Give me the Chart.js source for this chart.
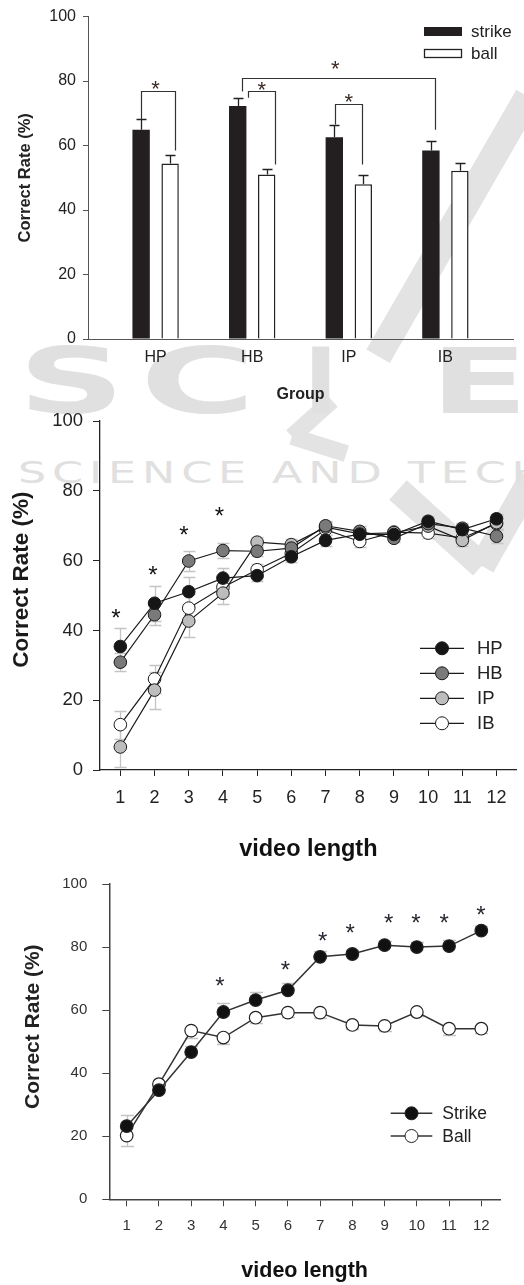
<!DOCTYPE html>
<html><head><meta charset="utf-8">
<script src="https://cdn.jsdelivr.net/npm/chart.js@4.4.1/dist/chart.umd.min.js"></script>
<style>
html,body{margin:0;padding:0;background:#fff;}
#page{position:relative;width:524px;height:1285px;overflow:hidden;background:#fff;}
canvas{position:absolute;left:0;}
.wm{position:absolute;color:#e0e0e0;font-family:"DejaVu Sans",sans-serif;font-weight:bold;white-space:nowrap;line-height:1;transform-origin:0 0;}
.band{position:absolute;background:#e3e3e3;transform-origin:0 50%;}
</style></head>
<body><div id="page">
<div class="wm" style="left:18px;top:337px;font-size:90px;transform:scaleX(1.65);">S</div>
<div class="wm" style="left:140px;top:337px;font-size:90px;transform:scaleX(1.75);">C</div>
<div class="wm" style="left:304px;top:337px;font-size:90px;">I</div>
<div class="wm" style="left:430px;top:337px;font-size:90px;transform:scaleX(1.6);">E</div>
<div class="wm" style="left:18px;top:458px;font-size:30px;font-weight:normal;letter-spacing:4px;transform:scaleX(1.48);">SCIENCE AND TECH</div>
<canvas id="c1" width="524" height="410" style="top:0px"></canvas>
<canvas id="c2" width="524" height="465" style="top:400px"></canvas>
<canvas id="c3" width="524" height="425" style="top:860px"></canvas>
</div>
<script>
// ---------------- DATA ----------------
// Chart 1: correct rate by group
const groups = ['HP', 'HB', 'IP', 'IB'];
const strikeRate = [64.9, 72.3, 62.6, 58.5];
const strikeErr  = [3.4, 2.3, 3.9, 2.9];
const ballRate   = [54.4, 51.0, 48.0, 52.2];
const ballErr    = [2.6, 1.7, 2.8, 2.3];
// significance brackets (group index / series index, value levels)
const brFromGroup  = [0, 1, 2, 1];
const brFromSeries = [0, 0, 0, 0];
const brToGroup    = [0, 1, 2, 3];
const brToSeries   = [1, 1, 1, 0];
const brTop        = [76.8, 76.8, 72.8, 80.9];
const brFromEnd    = [68.2, 74.8, 66.5, 76.8];
const brToEnd      = [58.5, 54.1, 54.1, 64.9];
const sig1X = [0.0, 1.1, 2.0, 1.86];
const sig1Y = [79.2, 79.0, 75.3, 85.5];

// Chart 2: four groups by video length
const videoLength = [1, 2, 3, 4, 5, 6, 7, 8, 9, 10, 11, 12];
const hpRate = [35.4, 47.8, 51.1, 55.0, 55.7, 61.1, 65.8, 67.6, 67.5, 71.3, 68.9, 72.0];
const hbRate = [30.9, 44.5, 59.9, 62.9, 62.7, 63.6, 70.0, 68.4, 66.4, 70.6, 69.3, 67.0];
const ipRate = [6.6, 22.9, 42.7, 50.7, 65.3, 64.6, 69.6, 67.7, 68.0, 69.9, 65.8, 70.9];
const ibRate = [13.0, 26.1, 46.4, 52.4, 57.4, 62.1, 68.9, 65.5, 68.2, 67.9, 66.5, 70.6];
const hpErr = [5.2, 5.0, 4.3, 3.0, 1.5, 1.5, 1.5, 1.5, 1.0, 1.5, 1.5, 1.5];
const hbErr = [2.5, 3.0, 3.0, 2.2, 1.5, 1.5, 1.5, 1.5, 1.0, 1.5, 1.5, 2.0];
const ipErr = [5.7, 5.3, 4.7, 3.0, 1.5, 1.5, 1.5, 1.5, 1.0, 1.5, 1.5, 2.0];
const ibErr = [4.0, 4.0, 4.0, 2.5, 1.5, 1.5, 1.5, 1.5, 1.0, 1.5, 1.5, 1.5];
const sig2X = [0.87, 1.95, 2.86, 3.90];
const sig2Y = [45.3, 57.5, 69.1, 74.5];

// Chart 3: strike vs ball by video length
const strikeByLen = [23.2, 34.6, 46.7, 59.4, 63.2, 66.3, 76.9, 77.8, 80.6, 80.0, 80.3, 85.2];
const ballByLen   = [20.2, 36.5, 53.5, 51.3, 57.6, 59.2, 59.2, 55.3, 55.0, 59.4, 54.1, 54.1];
const strikeLenErr = [3.6, 1.5, 1.8, 2.8, 2.6, 2.3, 1.8, 1.2, 1.2, 1.5, 1.8, 1.5];
const ballLenErr   = [3.3, 1.5, 2.2, 2.0, 1.8, 1.3, 1.8, 1.3, 1.5, 1.3, 2.0, 1.2];
const sig3X = [3.89, 5.92, 7.08, 7.93, 9.13, 9.97, 10.85, 11.99];
const sig3Y = [69.3, 74.4, 83.6, 86.4, 89.3, 89.3, 89.3, 92.0];

const yTicks = [0, 20, 40, 60, 80, 100];

// ---------------- background watermark strokes (decoration only) ----------------
(function () {
  const page = document.getElementById('page');
  const strokes = [
    [528, 96, 378, 356, 27],
    [332, 400, 292, 436, 17], [292, 436, 346, 453, 17],
    [398, 490, 482, 566, 26], [482, 566, 532, 478, 26]
  ];
  strokes.forEach(s => {
    const dx = s[2] - s[0], dy = s[3] - s[1];
    const d = document.createElement('div');
    d.className = 'band';
    d.style.left = s[0] + 'px';
    d.style.top = (s[1] - s[4] / 2) + 'px';
    d.style.width = Math.hypot(dx, dy) + 'px';
    d.style.height = s[4] + 'px';
    d.style.transform = 'rotate(' + Math.atan2(dy, dx) + 'rad)';
    page.insertBefore(d, page.firstChild);
  });
})();

// ---------------- HELPERS ----------------
const FAM = '"Liberation Sans", Arial, Helvetica, sans-serif';
Chart.defaults.font.family = FAM;

function xy(xs, ys) { return xs.map((x, i) => ({ x: x, y: ys[i] })); }

function overlay(cfg) {
  function drawErrors(chart) {
    const ctx = chart.ctx, ys = chart.scales.y;
    (cfg.errors || []).forEach((e, di) => {
      if (!e) return;
      const meta = chart.getDatasetMeta(di);
      const ds = chart.data.datasets[di];
      ctx.save();
      ctx.strokeStyle = cfg.errColor; ctx.lineWidth = cfg.errWidth;
      meta.data.forEach((el, j) => {
        const v = ds.data[j].y, err = e.vals[j];
        const x = Math.round(el.x) + 0.5;
        const segs = [];
        if (e.dir !== 'down') segs.push(v + err);
        if (e.dir !== 'up') segs.push(v - err);
        segs.forEach(end => {
          const y0 = ys.getPixelForValue(v), y1 = Math.round(ys.getPixelForValue(end)) + 0.5;
          ctx.beginPath();
          ctx.moveTo(x, y0); ctx.lineTo(x, y1);
          ctx.moveTo(x - cfg.capHalf, y1); ctx.lineTo(x + cfg.capHalf, y1);
          ctx.stroke();
        });
      });
      ctx.restore();
    });
  }
  function drawBrackets(chart) {
    if (!cfg.brackets) return;
    const ctx = chart.ctx, ys = chart.scales.y, b = cfg.brackets;
    ctx.save();
    ctx.strokeStyle = b.color; ctx.lineWidth = b.width;
    b.fromGroup.forEach((g, k) => {
      const e1 = chart.getDatasetMeta(b.fromSeries[k]).data[g];
      const e2 = chart.getDatasetMeta(b.toSeries[k]).data[b.toGroup[k]];
      const x1 = Math.round(e1.x + b.fromDx[k]) + 0.5, x2 = Math.round(e2.x + b.toDx[k]) + 0.5;
      const yt = Math.round(ys.getPixelForValue(b.top[k])) + 0.5;
      ctx.beginPath();
      ctx.moveTo(x1, ys.getPixelForValue(b.fromEnd[k]));
      ctx.lineTo(x1, yt); ctx.lineTo(x2, yt);
      ctx.lineTo(x2, ys.getPixelForValue(b.toEnd[k]));
      ctx.stroke();
    });
    ctx.restore();
  }
  function drawStars(chart) {
    if (!cfg.stars) return;
    const ctx = chart.ctx, s = cfg.stars;
    ctx.save();
    ctx.fillStyle = s.color;
    ctx.font = s.size + 'px ' + FAM;
    ctx.textAlign = 'center'; ctx.textBaseline = 'alphabetic';
    s.x.forEach((xv, i) => {
      const px = chart.scales.x.getPixelForValue(xv);
      const py = chart.scales.y.getPixelForValue(s.y[i]);
      ctx.fillText('*', px, py + 0.57 * s.size);
    });
    ctx.restore();
  }
  function drawLegend(chart) {
    const L = cfg.legend; if (!L) return;
    const ctx = chart.ctx;
    ctx.save();
    ctx.font = L.size + 'px ' + FAM;
    ctx.textBaseline = 'middle'; ctx.textAlign = 'left';
    chart.data.datasets.forEach((ds, i) => {
      const y = L.y0 + i * L.dy;
      if (L.kind === 'box') {
        ctx.fillStyle = ds.backgroundColor;
        ctx.fillRect(L.x0, y - L.boxH / 2, L.boxW, L.boxH);
        if (ds.borderWidth) {
          ctx.strokeStyle = ds.borderColor; ctx.lineWidth = 1.3;
          ctx.strokeRect(L.x0 + 0.5, y - L.boxH / 2 + 0.5, L.boxW - 1, L.boxH - 1);
        }
      } else {
        ctx.strokeStyle = ds.borderColor; ctx.lineWidth = ds.borderWidth;
        ctx.beginPath(); ctx.moveTo(L.x0, y); ctx.lineTo(L.x0 + L.lineW, y); ctx.stroke();
        ctx.beginPath(); ctx.arc(L.x0 + L.lineW / 2, y, L.r, 0, Math.PI * 2);
        ctx.fillStyle = ds.pointBackgroundColor; ctx.fill();
        ctx.lineWidth = 1; ctx.strokeStyle = ds.pointBorderColor; ctx.stroke();
      }
      ctx.fillStyle = L.color;
      ctx.fillText(ds.label, L.textX, y + 1);
    });
    ctx.restore();
  }
  function drawYTitle(chart) {
    const T = cfg.yTitle; if (!T) return;
    const ctx = chart.ctx, ca = chart.chartArea;
    ctx.save();
    ctx.translate(T.x, (ca.top + ca.bottom) / 2 + T.dy);
    ctx.rotate(-Math.PI / 2);
    ctx.fillStyle = T.color;
    ctx.font = 'bold ' + T.size + 'px ' + FAM;
    ctx.textAlign = 'center'; ctx.textBaseline = 'middle';
    ctx.fillText(T.text, 0, 0);
    ctx.restore();
  }
  return {
    id: 'overlay',
    beforeDatasetsDraw(chart) { if (cfg.errorsBehind) drawErrors(chart); },
    afterDatasetsDraw(chart) {
      if (!cfg.errorsBehind) drawErrors(chart);
      drawBrackets(chart); drawStars(chart);
    },
    afterDraw(chart) { drawLegend(chart); drawYTitle(chart); }
  };
}

function yScale(o) {
  return {
    min: 0, max: 100,
    afterBuildTicks: s => { s.ticks = yTicks.map(v => ({ value: v })); },
    ticks: { color: o.color, padding: o.pad, font: { size: o.size } },
    grid: { drawOnChartArea: false, drawTicks: true, tickLength: o.tl, color: o.axis, lineWidth: 1 },
    border: { display: true, color: o.axis, width: o.bw || 1 },
    afterFit: s => { s.width = o.width; }
  };
}

// ---------------- CHART 1 ----------------
new Chart(document.getElementById('c1'), {
  type: 'bar',
  data: {
    datasets: [
      { label: 'strike', data: xy(groups.map((g, i) => i), strikeRate),
        backgroundColor: '#231f20', borderColor: '#231f20', borderWidth: 0 },
      { label: 'ball', data: xy(groups.map((g, i) => i), ballRate),
        backgroundColor: '#ffffff', borderColor: '#222222', borderWidth: 1.5 }
    ]
  },
  options: {
    responsive: false, devicePixelRatio: 1, animation: false,
    layout: { padding: { left: 0, top: 14, right: 11, bottom: 0 } },
    datasets: { bar: { categoryPercentage: 0.6, barPercentage: 0.6 } },
    plugins: { legend: { display: false }, tooltip: { enabled: false } },
    scales: {
      x: {
        type: 'linear', min: -0.7, max: 3.7, offset: false,
        afterBuildTicks: s => { s.ticks = groups.map((g, i) => ({ value: i })); },
        ticks: { color: '#222', padding: 9, font: { size: 16 }, maxRotation: 0, autoSkip: false,
                 callback: v => groups[v] },
        grid: { display: false, drawTicks: false },
        border: { display: true, color: '#555', width: 1 },
        title: { display: true, text: 'Group', color: '#222', font: { size: 16, weight: 'bold' },
                 padding: { top: 0, bottom: 6 } },
        afterFit: s => { s.height = 71; }
      },
      y: yScale({ color: '#222', pad: 7, size: 16, tl: 5, axis: '#555', width: 88 })
    }
  },
  plugins: [overlay({
    errors: [{ vals: strikeErr, dir: 'up' }, { vals: ballErr, dir: 'up' }],
    errColor: '#222', errWidth: 1.3, capHalf: 5, errorsBehind: false,
    brackets: { fromGroup: brFromGroup, fromSeries: brFromSeries, toGroup: brToGroup, toSeries: brToSeries,
                top: brTop, fromEnd: brFromEnd, toEnd: brToEnd,
                fromDx: [0, 10.5, 1, 4], toDx: [5, 8.5, -1, 4.5], color: '#333', width: 1.2 },
    stars: { x: sig1X, y: sig1Y, size: 22, color: '#3a2a22' },
    legend: { kind: 'box', x0: 424, y0: 31.5, dy: 22, boxW: 38, boxH: 9, textX: 471, size: 17, color: '#222' },
    yTitle: { text: 'Correct Rate (%)', x: 25, dy: 0, size: 16.5, color: '#222' }
  })]
});

// ---------------- CHART 2 ----------------
function lineDs(label, vals, fill) {
  return { label: label, data: xy(videoLength, vals), borderColor: '#1a1a1a', borderWidth: 1.2,
           pointRadius: 6.3, pointBackgroundColor: fill, pointBorderColor: '#1a1a1a', pointBorderWidth: 1,
           fill: false, tension: 0 };
}
new Chart(document.getElementById('c2'), {
  type: 'line',
  data: { datasets: [
    lineDs('HP', hpRate, '#161616'),
    lineDs('HB', hbRate, '#7a7a7a'),
    lineDs('IP', ipRate, '#bdbdbd'),
    lineDs('IB', ibRate, '#ffffff')
  ] },
  options: {
    responsive: false, devicePixelRatio: 1, animation: false,
    layout: { padding: { left: 0, top: 16.7, right: 0, bottom: 0 } },
    plugins: { legend: { display: false }, tooltip: { enabled: false } },
    scales: {
      x: {
        type: 'linear', min: 0.405, max: 12.59,
        afterBuildTicks: s => { s.ticks = videoLength.map(v => ({ value: v })); },
        ticks: { color: '#222', padding: 11, font: { size: 18 }, maxRotation: 0, autoSkip: false },
        grid: { drawOnChartArea: false, drawTicks: true, tickLength: 6, color: '#222' },
        border: { display: true, color: '#222', width: 1.3 },
        title: { display: true, text: 'video length', color: '#111', font: { size: 23.5, weight: 'bold' },
                 padding: { top: 0, bottom: 1 } },
        afterFit: s => { s.height = 95; }
      },
      y: yScale({ color: '#222', pad: 10, size: 18.5, tl: 7, axis: '#222', width: 100, bw: 1.3 })
    }
  },
  plugins: [overlay({
    errors: [{ vals: hpErr, dir: 'both' }, { vals: hbErr, dir: 'both' }, { vals: ipErr, dir: 'both' }, { vals: ibErr, dir: 'both' }],
    errColor: '#c4c4c4', errWidth: 1.3, capHalf: 6, errorsBehind: true,
    stars: { x: sig2X, y: sig2Y, size: 24, color: '#111' },
    legend: { kind: 'line', x0: 420, y0: 248.3, dy: 25, lineW: 44, r: 6.5, textX: 477, size: 18.5, color: '#222' },
    yTitle: { text: 'Correct Rate (%)', x: 22, dy: -16, size: 22.5, color: '#1a1a1a' }
  })]
});

// ---------------- CHART 3 ----------------
function lineDs3(label, vals, fill) {
  return { label: label, data: xy(videoLength, vals), borderColor: '#333', borderWidth: 1.5,
           pointRadius: 6.3, pointBackgroundColor: fill, pointBorderColor: '#222', pointBorderWidth: 1.2,
           fill: false, tension: 0 };
}
new Chart(document.getElementById('c3'), {
  type: 'line',
  data: { datasets: [
    lineDs3('Strike', strikeByLen, '#111111'),
    lineDs3('Ball', ballByLen, '#ffffff')
  ] },
  options: {
    responsive: false, devicePixelRatio: 1, animation: false,
    layout: { padding: { left: 0, top: 12.3, right: 24, bottom: 0 } },
    plugins: { legend: { display: false }, tooltip: { enabled: false } },
    scales: {
      x: {
        type: 'linear', min: 0.46, max: 12.58,
        afterBuildTicks: s => { s.ticks = videoLength.map(v => ({ value: v })); },
        ticks: { color: '#333', padding: 10.5, font: { size: 15 }, maxRotation: 0, autoSkip: false },
        grid: { drawOnChartArea: false, drawTicks: true, tickLength: 7, color: '#444' },
        border: { display: true, color: '#444', width: 1.5 },
        title: { display: true, text: 'video length', color: '#111', font: { size: 21.5, weight: 'bold' },
                 padding: { top: 0, bottom: 1.5 } },
        afterFit: s => { s.height = 85.7; }
      },
      y: yScale({ color: '#333', pad: 15, size: 15, tl: 7, axis: '#444', width: 109.3, bw: 1.5 })
    }
  },
  plugins: [overlay({
    errors: [{ vals: strikeLenErr, dir: 'up' }, { vals: ballLenErr, dir: 'down' }],
    errColor: '#c4c4c4', errWidth: 1.3, capHalf: 6.5, errorsBehind: true,
    stars: { x: sig3X, y: sig3Y, size: 24, color: '#2a2530' },
    legend: { kind: 'line', x0: 390.7, y0: 253.3, dy: 22.7, lineW: 41.6, r: 6.5, textX: 442.3, size: 17.5, color: '#222' },
    yTitle: { text: 'Correct Rate (%)', x: 33, dy: -15, size: 21, color: '#222' }
  })]
});
</script>
</body></html>
